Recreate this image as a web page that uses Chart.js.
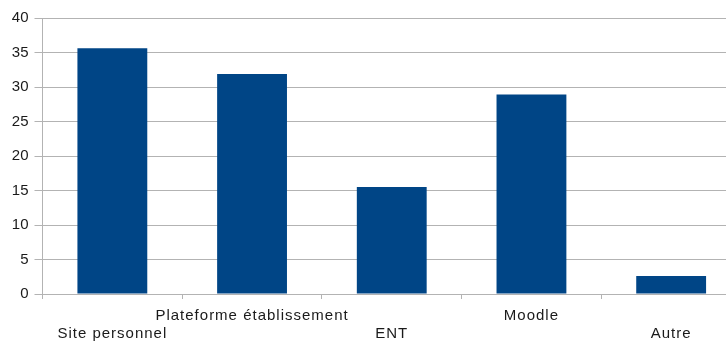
<!DOCTYPE html>
<html>
<head>
<meta charset="utf-8">
<script src="https://cdn.jsdelivr.net/npm/chart.js@4/dist/chart.umd.min.js"></script>
<style>
  html, body { margin: 0; padding: 0; background: #fff; overflow: hidden; }
  #wrap { width: 760px; height: 344px; }
</style>
</head>
<body>
<div id="wrap"><canvas id="c" width="760" height="344"></canvas></div>
<script>
const categories = ['Site personnel', 'Plateforme établissement', 'ENT', 'Moodle', 'Autre'];
const values = [35.6, 31.9, 15.5, 28.9, 2.6];
const yTicks = [0, 5, 10, 15, 20, 25, 30, 35, 40];

const gridColor = '#b3b3b3';
const fontSpec = { family: '"Liberation Sans", Arial, sans-serif', size: 15, lineHeight: 1.25 };

const chart = new Chart(document.getElementById('c'), {
  type: 'bar',
  data: {
    labels: categories,
    datasets: [{
      data: values,
      backgroundColor: '#004586',
      borderWidth: 0,
      barPercentage: 0.5,
      categoryPercentage: 1.0
    }]
  },
  options: {
    responsive: false,
    animation: false,
    layout: { padding: { top: 18, right: 19, left: 0, bottom: 0 } },
    plugins: { legend: { display: false }, tooltip: { enabled: false } },
    scales: {
      x: {
        type: 'category',
        offset: true,
        grid: { offset: true, drawOnChartArea: false, drawTicks: true, tickLength: 5, color: gridColor },
        border: { color: gridColor },
        ticks: {
          color: '#1a1a1a',
          font: fontSpec,
          padding: 7,
          maxRotation: 0,
          autoSkip: false,
          // alternate labels are pushed one line down so long names don't collide
          callback: (v, i) => i % 2 === 0 ? ['', categories[i]] : [categories[i]]
        },
        afterFit: s => { s.height = 50; }
      },
      y: {
        min: 0,
        max: 40,
        afterBuildTicks: s => { s.ticks = yTicks.map(v => ({ value: v })); },
        grid: { color: gridColor, tickLength: 8 },
        border: { color: gridColor },
        ticks: { color: '#1a1a1a', font: fontSpec, padding: 6 },
        afterFit: s => { s.width = 42.5; }
      }
    }
  }
});

// slightly looser tracking for the category labels
const xScale = chart.scales.x;
const origDrawLabels = xScale.drawLabels;
xScale.drawLabels = function (area) {
  const ctx = this.ctx;
  ctx.save();
  ctx.letterSpacing = '1px';
  origDrawLabels.call(this, area);
  ctx.restore();
};
chart.draw();
</script>
</body>
</html>
